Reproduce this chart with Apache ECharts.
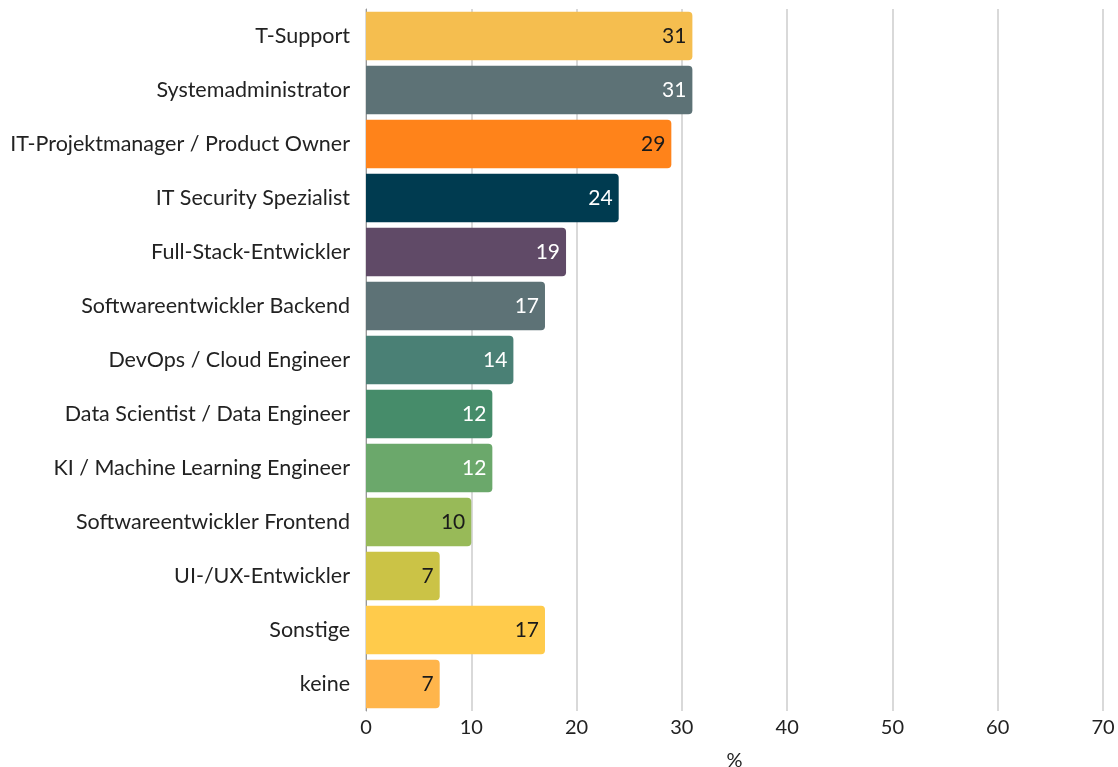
<html>
<head>
    <meta charset="utf-8">
    <title>IT-Berufe</title>
    <style type="text/css">
        html, body { margin: 0; padding: 0; background: #fff; overflow: hidden; }
        #chart { width: 1118px; height: 767px; }
    </style>
</head>
<body>
    <div id="chart"></div>
</body>
</html>

<script src="https://cdn.jsdelivr.net/npm/echarts@6/dist/echarts.min.js"></script>
<script>

    var categories = [
        'T-Support',
        'Systemadministrator',
        'IT-Projektmanager / Product Owner',
        'IT Security Spezialist',
        'Full-Stack-Entwickler',
        'Softwareentwickler Backend',
        'DevOps / Cloud Engineer',
        'Data Scientist / Data Engineer',
        'KI / Machine Learning Engineer',
        'Softwareentwickler Frontend',
        'UI-/UX-Entwickler',
        'Sonstige',
        'keine'
    ];
    var values = [31, 31, 29, 24, 19, 17, 14, 12, 12, 10, 7, 17, 7];
    var barColors = ['#F5BE4F', '#5D7276', '#FF831A', '#003B50', '#604A67', '#5D7276',
        '#4A8075', '#468C6A', '#6BA86B', '#98BA58', '#CBC346', '#FFCB4B', '#FFB54B'];
    var labelColors = ['#1a1a1a', '#ffffff', '#1a1a1a', '#ffffff', '#ffffff', '#ffffff',
        '#ffffff', '#ffffff', '#ffffff', '#1a1a1a', '#1a1a1a', '#1a1a1a', '#1a1a1a'];
    var xTicks = [0, 10, 20, 30, 40, 50, 60, 70];

    var font = 'Lato, "Noto Sans", sans-serif';

    var data = [];
    for (var i = 0; i < values.length; i++) {
        data.push({
            value: values[i],
            itemStyle: { color: barColors[i] },
            label: { color: labelColors[i] }
        });
    }

    var chart = echarts.init(document.getElementById('chart'));
    chart.setOption({
        animation: false,
        textStyle: { fontFamily: font },
        grid: { left: 366, right: 15, top: 9, bottom: 56, containLabel: false, outerBoundsMode: 'none' },
        xAxis: {
            type: 'value',
            min: xTicks[0],
            max: xTicks[xTicks.length - 1],
            interval: 10,
            name: '%',
            nameLocation: 'middle',
            nameGap: 40,
            nameTextStyle: { fontSize: 20, color: '#222', fontFamily: font },
            axisLine: { show: false },
            axisTick: { show: false },
            axisLabel: { fontSize: 20, color: '#222', margin: 7, fontFamily: font },
            splitLine: { lineStyle: { color: '#cccccc', width: 1.5 } }
        },
        yAxis: {
            type: 'category',
            data: categories,
            inverse: true,
            axisLine: { show: true, lineStyle: { color: '#999', width: 1 } },
            axisTick: { show: false },
            axisLabel: { fontSize: 21.5, color: '#222', margin: 16, fontFamily: font }
        },
        series: [{
            type: 'bar',
            data: data,
            barCategoryGap: '10%',
            itemStyle: { borderRadius: [0, 4, 4, 0] },
            label: {
                show: true,
                position: 'insideRight',
                distance: 6,
                fontSize: 21,
                fontFamily: font
            }
        }]
    });

</script>
